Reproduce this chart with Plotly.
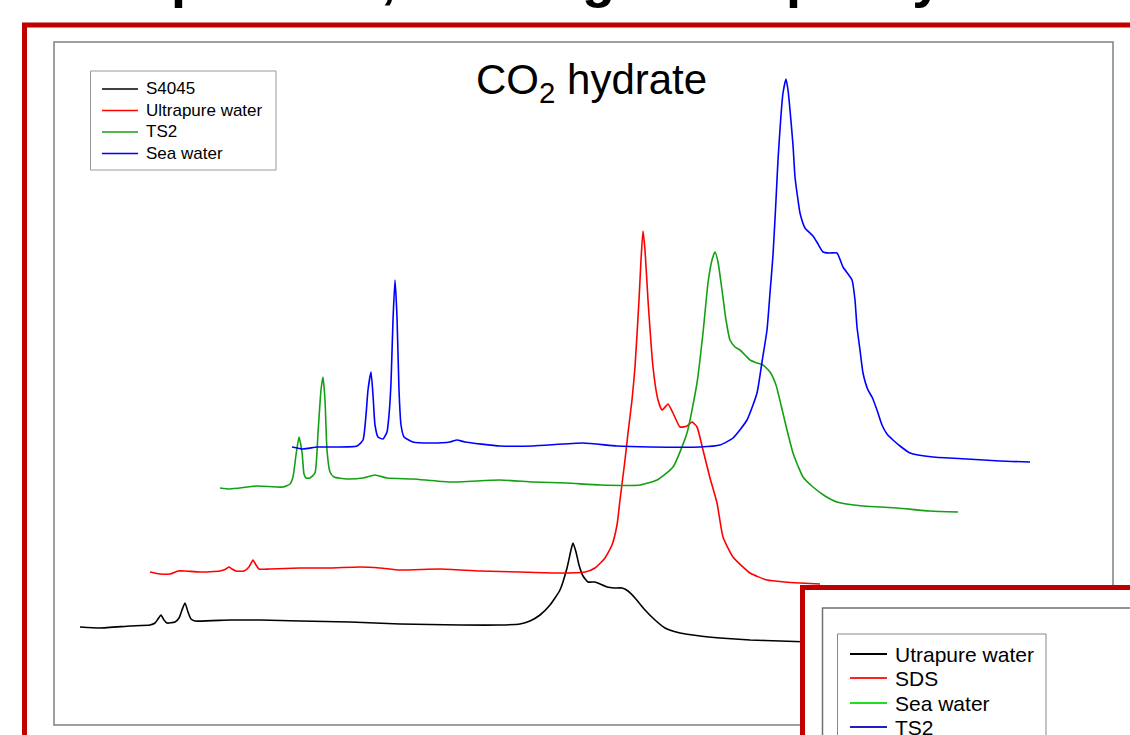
import plotly.graph_objects as go

# ---------------- data (x = shift, y = stacked intensity) ----------------
s4045_x = [80, 100, 130, 150, 155, 158, 161, 164, 167, 175, 179, 182, 185, 188, 191, 195, 230, 260, 300, 350,
           400, 460, 500, 520, 530, 540, 550, 560, 567, 571, 573, 576, 579, 583, 588, 595, 600, 607, 614, 622,
           628, 635, 645, 655, 665, 680, 700, 720, 750, 780, 810]
s4045_y = [98, 97, 99, 100, 102, 106, 110, 105, 102, 103, 107, 115, 122, 113, 106, 104, 105, 105, 104, 103,
           101, 100, 100, 101, 104, 110, 120, 135, 157, 175, 182, 173, 160, 149, 143, 143, 141, 138, 137, 137,
           134, 127, 115, 105, 97, 92, 89, 87, 85, 84, 83]

upw_x = [150, 160, 170, 178, 185, 200, 220, 226, 229, 232, 236, 244, 249, 253, 256, 259, 270, 300, 330, 360,
         380, 400, 440, 480, 520, 560, 585, 595, 605, 612, 617, 620, 625, 628, 632, 635, 639, 641, 643, 645,
         648, 653, 658, 662, 666, 668, 673, 680, 687, 692, 697, 703, 710, 717, 723, 733, 750, 767, 785, 800, 820]
upw_y = [153, 151, 151, 154, 154, 153, 154, 156, 158, 156, 154, 154, 158, 165, 160, 156, 156, 157, 157, 158,
         157, 155, 156, 154, 153, 152, 153, 157, 167, 180, 200, 225, 265, 292, 325, 358, 425, 465, 494, 475,
         425, 358, 325, 315, 319, 321, 312, 298, 299, 303, 298, 275, 247, 222, 188, 168, 152, 145, 143, 142, 141]

ts2_x = [220, 230, 257, 283, 290, 293, 296, 299, 302, 304, 306, 310, 315, 318, 321, 323, 325, 327, 330, 334,
         347, 363, 375, 387, 413, 450, 500, 533, 567, 600, 640, 657, 673, 687, 697, 703, 708, 712, 715, 718,
         722, 726, 730, 735, 740, 745, 750, 757, 763, 770, 776, 781, 787, 793, 798, 803, 813, 825, 837, 863,
         897, 930, 958]
ts2_y = [237, 236, 239, 238, 241, 248, 270, 288, 273, 251, 247, 247, 252, 292, 335, 348, 325, 275, 253, 248,
         246, 247, 250, 247, 246, 243, 245, 243, 242, 240, 240, 245, 258, 292, 342, 392, 442, 465, 473, 463,
         435, 405, 385, 378, 375, 370, 365, 362, 360, 353, 340, 320, 295, 272, 259, 248, 238, 229, 223, 219,
         217, 214, 213]

sea_x = [292, 303, 317, 330, 357, 363, 366, 368, 371, 373, 375, 378, 383, 387, 389, 391, 393, 395, 397, 399,
         401, 404, 413, 430, 450, 457, 465, 500, 533, 583, 617, 650, 700, 720, 733, 747, 757, 762, 767, 770,
         773, 776, 778, 781, 783, 786, 788, 790, 793, 795, 798, 800, 805, 813, 818, 823, 830, 837, 843, 852,
         855, 857, 860, 863, 868, 872, 877, 882, 887, 893, 900, 910, 933, 967, 1000, 1030]
sea_y = [278, 276, 278, 278, 279, 285, 310, 335, 353, 330, 300, 288, 286, 293, 310, 342, 405, 445, 408, 335,
         300, 288, 283, 282, 283, 285, 283, 279, 279, 282, 279, 278, 278, 280, 287, 305, 332, 363, 395, 432,
         470, 525, 565, 610, 632, 646, 635, 615, 580, 548, 525, 512, 497, 489, 481, 473, 472, 472, 458, 445,
         425, 398, 375, 352, 335, 328, 315, 300, 291, 285, 279, 272, 268, 266, 264, 263]

main_names = ["S4045", "Ultrapure water", "TS2", "Sea water"]
main_colors = ["#000000", "#FF0000", "#14A014", "#0000FF"]
inset_names = ["Utrapure water", "SDS", "Sea water", "TS2"]
inset_colors = ["#000000", "#FF2020", "#20DD20", "#1E1EC8"]
title_text = "CO<sub>2</sub> hydrate"
header_text = "in composition, and cage occupancy."

# ---------------- layout helpers (pixel -> paper) ----------------
W, H = 1130, 735
L, R, T, B = 54, 1113, 42, 725


def px(x):
    return (x - L) / (R - L)


def py(y):
    return (B - y) / (B - T)


FONT = "Liberation Sans, Arial, Helvetica, sans-serif"

fig = go.Figure()
for xs, ys, name, col in zip([s4045_x, upw_x, ts2_x, sea_x], [s4045_y, upw_y, ts2_y, sea_y],
                             main_names, main_colors):
    fig.add_trace(go.Scatter(x=xs, y=ys, mode="lines", name=name, showlegend=False,
                             line=dict(color=col, width=1.6, shape="spline", smoothing=0.5),
                             hoverinfo="skip"))

shapes = [
    # outer red slide frame
    dict(type="rect", xref="paper", yref="paper", x0=px(24.5), y0=py(760), x1=px(1150), y1=py(25),
         line=dict(color="#C00000", width=5), fillcolor="rgba(0,0,0,0)", layer="above"),
    # main plot box
    dict(type="rect", xref="paper", yref="paper", x0=0, y0=0, x1=1, y1=1,
         line=dict(color="#808080", width=1.5), fillcolor="rgba(0,0,0,0)", layer="above"),
    # main legend box
    dict(type="rect", xref="paper", yref="paper", x0=px(90.5), y0=py(170), x1=px(276), y1=py(71),
         line=dict(color="#999999", width=1), fillcolor="white", layer="above"),
    # inset red frame
    dict(type="rect", xref="paper", yref="paper", x0=px(802.5), y0=py(760), x1=px(1150), y1=py(587.5),
         line=dict(color="#C00000", width=5), fillcolor="white", layer="above"),
    # inset plot box
    dict(type="rect", xref="paper", yref="paper", x0=px(822.5), y0=py(760), x1=px(1150), y1=py(608),
         line=dict(color="#707070", width=1.5), fillcolor="white", layer="above"),
    # inset legend box
    dict(type="rect", xref="paper", yref="paper", x0=px(837.5), y0=py(760), x1=px(1046), y1=py(634),
         line=dict(color="#888888", width=1), fillcolor="white", layer="above"),
]
annotations = [
    dict(text=title_text, xref="paper", yref="paper", x=px(591), y=py(82), xanchor="center", yanchor="middle",
         showarrow=False, font=dict(family=FONT, size=42, color="#000000")),
    dict(text="<b>" + header_text + "</b>", xref="paper", yref="paper", x=px(955), y=py(-22),
         xanchor="right", yanchor="middle", showarrow=False,
         font=dict(family=FONT, size=54, color="#000000")),
]

# main legend (matches the reference's compact spacing)
main_rows = [89, 110.5, 132, 153.5]
for name, col, yy in zip(main_names, main_colors, main_rows):
    shapes.append(dict(type="line", xref="paper", yref="paper", x0=px(102), x1=px(138), y0=py(yy), y1=py(yy),
                       line=dict(color=col, width=1.6), layer="above"))
    annotations.append(dict(text=name, xref="paper", yref="paper", x=px(144), y=py(yy), xanchor="left",
                            yanchor="middle", showarrow=False,
                            font=dict(family=FONT, size=17, color="#000000")))

# inset legend
row_y = [654, 678, 703, 727]
for name, col, yy in zip(inset_names, inset_colors, row_y):
    shapes.append(dict(type="line", xref="paper", yref="paper", x0=px(850), x1=px(887), y0=py(yy), y1=py(yy),
                       line=dict(color=col, width=1.8), layer="above"))
    annotations.append(dict(text=name, xref="paper", yref="paper", x=px(893), y=py(yy), xanchor="left",
                            yanchor="middle", showarrow=False,
                            font=dict(family=FONT, size=21, color="#000000")))

fig.update_layout(
    width=W, height=H,
    margin=dict(l=L, r=W - R, t=T, b=H - B, pad=0),
    paper_bgcolor="white", plot_bgcolor="white",
    xaxis=dict(range=[L, R], visible=False, showgrid=False, zeroline=False, fixedrange=True),
    yaxis=dict(range=[0, B - T], visible=False, showgrid=False, zeroline=False, fixedrange=True),
    showlegend=False,
    hovermode=False,
    shapes=shapes,
    annotations=annotations,
)

fig.write_html("out.html", config={"displayModeBar": False, "staticPlot": True},
               post_script="document.body.style.margin='0px';document.body.style.overflow='hidden';")
